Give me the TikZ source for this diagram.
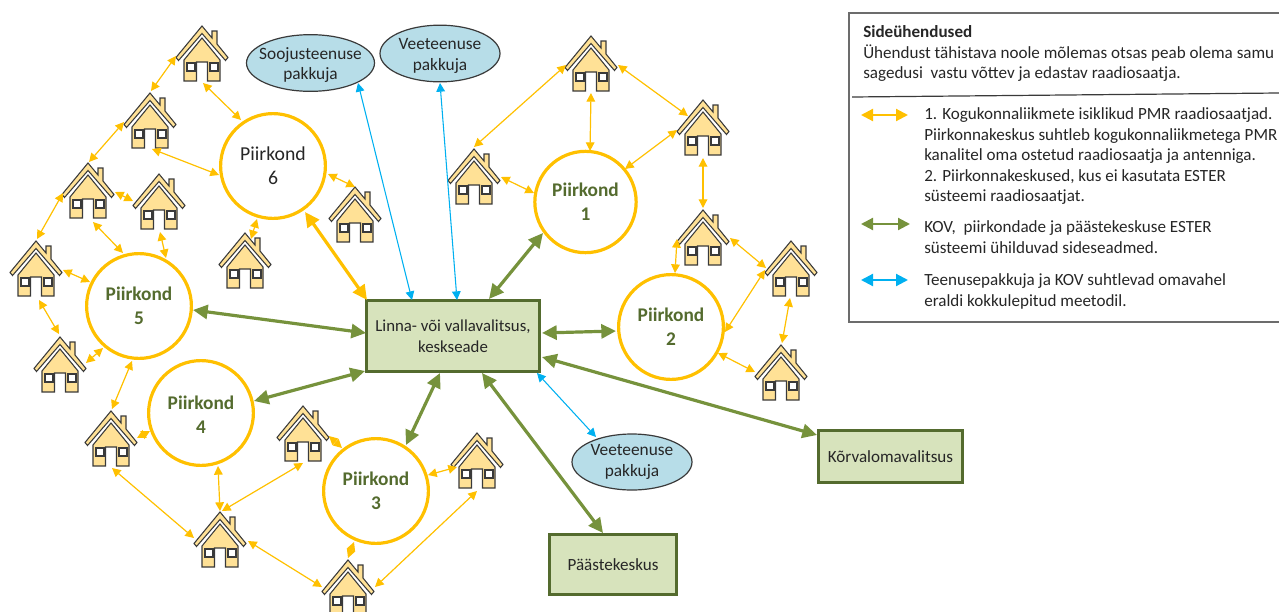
\documentclass[tikz,border=0pt]{standalone}
\usepackage{fontspec}
\setmainfont{Carlito}
\usetikzlibrary{arrows.meta,shapes.geometric}
\definecolor{cyel}{HTML}{FFC000}
\definecolor{cgrn}{HTML}{76923C}
\definecolor{cgrd}{HTML}{546B2E}
\definecolor{cblu}{HTML}{00B0F0}
\definecolor{crect}{HTML}{D7E3BC}
\definecolor{cell}{HTML}{B7DDE8}
\definecolor{chouse}{HTML}{FFE196}
\definecolor{cline}{HTML}{3A3A3A}
\definecolor{ctxt}{HTML}{262626}
\tikzset{
 housebox/.style={inner sep=0pt,outer sep=0pt,minimum width=39pt,minimum height=42pt},
 house/.pic={
  \path[fill=chouse,draw=cline,line width=.8pt,line join=miter]
   (-18,27)--(-18,6)--(0,-16)--(18,6)--(18,27)--(5.5,27)--(5.5,8)--(-5.5,8)--(-5.5,27)--cycle;
  \path[fill=white,draw=cline,line width=.8pt] (-15,9) rectangle (-7,17);
  \path[fill=white,draw=cline,line width=.8pt] (8,9) rectangle (16,17);
  \path[fill=chouse,draw=cline,line width=.8pt,line join=miter]
   (-26,3.5)--(0,-28)--(10,-16)--(10,-23)--(15,-23)--(15,-10)--(26,3.5)--(23.5,6.5)--(0,-20.5)--(-23.5,6.5)--cycle;
 },
 pk/.style={circle,draw=cyel,fill=white,line width=2.4pt,inner sep=0pt,outer sep=0pt,minimum size=78.6pt,align=center,
   font=\fontsize{14.8}{18}\selectfont},
 pkb/.style={pk,text=cgrd,font=\fontsize{14.5}{18}\selectfont\bfseries},
 gbox/.style={rectangle,draw=cgrd,fill=crect,line width=2.4pt,inner sep=0pt,outer sep=0pt,align=center,text=ctxt,
   font=\fontsize{12.8}{15.6}\selectfont},
 prov/.style={ellipse,draw=cline,fill=cell,line width=.9pt,inner xsep=-18pt,inner ysep=-10pt,outer sep=0pt,align=center,text=ctxt,
   font=\fontsize{13}{15.6}\selectfont},
 yl/.style={draw=cyel,line width=.9pt,{Triangle[length=6.5pt,width=6.5pt]}-{Triangle[length=6.5pt,width=6.5pt]}},
 ylt/.style={draw=cyel,line width=2.4pt,{Triangle[length=11pt,width=10.5pt]}-{Triangle[length=11pt,width=10.5pt]}},
 gr/.style={draw=cgrn,line width=2.4pt,{Triangle[length=11pt,width=10.5pt]}-{Triangle[length=11pt,width=10.5pt]}},
 bl/.style={draw=cblu,line width=.8pt,{Triangle[length=6.5pt,width=6.5pt]}-{Triangle[length=6.5pt,width=6.5pt]}},
 lgy/.style={draw=cyel,line width=1.6pt,{Triangle[length=9pt,width=9pt]}-{Triangle[length=9pt,width=9pt]}},
 lgg/.style={lgy,draw=cgrn},
 lgb/.style={lgy,draw=cblu},
 lgt/.style={anchor=north west,inner sep=0pt,align=left,text=ctxt,font=\fontsize{12.8}{15.4}\selectfont},
}
\begin{document}
\begin{tikzpicture}[x=.75pt,y=-.75pt]
\useasboundingbox (0,0) rectangle (1279,611);
% houses
\foreach \n/\x/\y in {ha/202/54,hb/150/121,hc/88/191,hd/159/202,he/36/269,hf/245/261,hg/355/215,
  hh/60/365,hi/111/439,hj/220/540,hk/303/434,hl/477/461,hm/348/588,hn/591/64,ho/703/128,
  hp/474/177,hq/703/238,hr/791/269,hs/781/373}{
  \node[housebox] (\n) at (\x,\y) {};
  \pic at (\n.center) {house};
}
% districts
\node[pkb] (c1) at (585.5,202) [minimum size=76pt] {Piirkond\\1};
\node[pkb] (c2) at (671,327) {Piirkond\\2};
\node[pkb] (c3) at (376,491) {Piirkond\\3};
\node[pkb] (c4) at (201,413) {\rule{0pt}{13pt}Piirkond\\4};
\node[pkb] (c5) at (139,306) {Piirkond\\5};
\node[pk,text=ctxt] (c6) at (273,166) {Piirkond\\6};
% boxes
\node[gbox,minimum width=129.5pt,minimum height=53pt,font=\fontsize{12.6}{15.6}\selectfont] (main) at (453,336) {Linna- või vallavalitsus,\\keskseade};
\node[gbox,minimum width=95.5pt,minimum height=45pt] (pk) at (613,564.5) {Päästekeskus};
\node[gbox,minimum width=108.5pt,minimum height=39.5pt] (kv) at (890.5,456.5) {Kõrvalomavalitsus};
\node[prov,minimum width=96pt,minimum height=42.5pt] (s1) at (310.5,63) {\rule{0pt}{12pt}Soojusteenuse\\pakkuja};
\node[prov,minimum width=90pt,minimum height=42.5pt] (v1) at (440,53.5) {\rule{0pt}{12pt}Veeteenuse\\pakkuja};
\node[prov,minimum width=90pt,minimum height=42pt] (v2) at (632,462) {Veeteenuse\\pakkuja};
% thin yellow links
\draw[yl] ([shift={(-26,2)}]ha.center) -- ([shift={(1,-30)}]hb.center);
\draw[yl] ([shift={(1,29)}]ha.center) -- ([shift={(-32,-46)}]c6.center);
\draw[yl] ([shift={(-26,1)}]hb.center) -- ([shift={(1,-29)}]hc.center);
\draw[yl] ([shift={(2,28)}]hb.center) -- ([shift={(-54,9)}]c6.center);
\draw[yl] ([shift={(27,1)}]hc.center) -- ([shift={(-26,-1)}]hd.center);
\draw[yl] ([shift={(-25,2)}]hc.center) -- ([shift={(1,-30)}]he.center);
\draw[yl] ([shift={(5,31)}]hc.center) -- ([shift={(-16,-53)}]c5.center);
\draw[yl] ([shift={(1,30)}]hd.center) -- ([shift={(27,-48)}]c5.center);
\draw[yl] ([shift={(27,1)}]he.center) -- ([shift={(-49,-24)}]c5.center);
\draw[yl] ([shift={(55,8)}]c6.center) -- ([shift={(0,-28)}]hg.center);
\draw[yl] ([shift={(-16,53)}]c6.center) -- ([shift={(6,-22)}]hf.center);
\draw[yl] ([shift={(3,31)}]he.center) -- ([shift={(-1,-31)}]hh.center);
\draw[yl] ([shift={(26,-2)}]hh.center) -- ([shift={(-36,42)}]c5.center);
\draw[yl] ([shift={(-7,55)}]c5.center) -- ([shift={(1,-30)}]hi.center);
\draw[yl] ([shift={(26,-1)}]hi.center) -- ([shift={(-51,18)}]c4.center);
\draw[yl] ([shift={(1,29)}]hi.center) -- ([shift={(-26,-2)}]hj.center);
\draw[yl] ([shift={(17,53)}]c4.center) -- ([shift={(0,-29)}]hj.center);
\draw[yl] ([shift={(2,-29)}]hj.center) -- ([shift={(0,29)}]hk.center);
\draw[yl] ([shift={(26,2)}]hk.center) -- ([shift={(-34,-43)}]c3.center);
\draw[yl] ([shift={(52,-16)}]c3.center) -- ([shift={(-20,6)}]hl.center);
\draw[yl] ([shift={(0,30)}]hl.center) -- ([shift={(27,-1)}]hm.center);
\draw[yl] ([shift={(28,1)}]hj.center) -- ([shift={(-26,-1)}]hm.center);
\draw[yl] ([shift={(-22,51)}]c3.center) -- ([shift={(0,-30)}]hm.center);
\draw[yl] ([shift={(0,-30)}]hp.center) -- ([shift={(-25,1)}]hn.center);
\draw[yl] ([shift={(27,0)}]hp.center) -- ([shift={(-51.5,-9)}]c1.center);
\draw[yl] ([shift={(0,29)}]hn.center) -- ([shift={(4.5,-51)}]c1.center);
\draw[yl] ([shift={(27,1)}]hn.center) -- ([shift={(-15,-12)}]ho.center);
\draw[yl] ([shift={(-26,2)}]ho.center) -- ([shift={(39.5,-33)}]c1.center);
\draw[yl] ([shift={(0,30)}]ho.center) -- ([shift={(0,-30)}]hq.center);
\draw[yl] ([shift={(-26,1)}]hq.center) -- ([shift={(4,-54)}]c2.center);
\draw[yl] ([shift={(27,0)}]hq.center) -- ([shift={(-25,-1)}]hr.center);
\draw[yl] ([shift={(-26,1)}]hr.center) -- ([shift={(54,5)}]c2.center);
\draw[yl] ([shift={(-1,29)}]hr.center) -- ([shift={(1,-30)}]hs.center);
\draw[yl] ([shift={(47,26)}]c2.center) -- ([shift={(-26,-1)}]hs.center);
% thick links
\draw[ylt] ([shift={(32,46)}]c6.center) -- ([shift={(-86,-36)}]main.center);
\draw[gr] ([shift={(36,-37)}]main.center) -- ([shift={(-42.5,31)}]c1.center);
\draw[gr] ([shift={(89,-3)}]main.center) -- ([shift={(-55,4)}]c2.center);
\draw[gr] ([shift={(89,21)}]main.center) -- ([shift={(-73.5,-21.5)}]kv.center);
\draw[gr] ([shift={(29,37)}]main.center) -- ([shift={(-10,-31.5)}]pk.center);
\draw[gr] ([shift={(-13,37)}]main.center) -- ([shift={(30,-46)}]c3.center);
\draw[gr] ([shift={(-88,35)}]main.center) -- ([shift={(53,-12)}]c4.center);
\draw[gr] ([shift={(-87,-3)}]main.center) -- ([shift={(54,4)}]c5.center);
% blue links
\draw[bl] ([shift={(-41,-36)}]main.center) -- ([shift={(47.5,20)}]s1.center);
\draw[bl] ([shift={(4,-36)}]main.center) -- ([shift={(0,29.5)}]v1.center);
\draw[bl] ([shift={(84,37)}]main.center) -- ([shift={(-36,-25)}]v2.center);
% legend
\path[draw=gray!85!black,line width=1.1pt] (1290,13) -- (849,13) -- (849,322) -- (1290,322);
\coordinate (d1) at (852,97);
\coordinate (d2) at (1279,93);
\draw[cline,line width=.9pt] (d1) -- (d2);
\node[lgt] (t0) at (863,25.5) {\textbf{Sideühendused}\\Ühendust tähistava noole mõlemas otsas peab olema samu\\sagedusi\ \ vastu võttev ja edastav raadiosaatja.};
\node[lgt] (t1) at (924,107.5) {1. Kogukonnaliikmete isiklikud PMR raadiosaatjad.\\Piirkonnakeskus suhtleb kogukonnaliikmetega PMR\\kanalitel oma ostetud raadiosaatja ja antenniga.\\2. Piirkonnakeskused, kus ei kasutata ESTER\\süsteemi raadiosaatjat.};
\node[lgt] (t2) at (924,220.5) {KOV,\ \ piirkondade ja päästekeskuse ESTER\\süsteemi ühilduvad sideseadmed.};
\node[lgt] (t3) at (924,273.5) {Teenusepakkuja ja KOV suhtlevad omavahel\\eraldi kokkulepitud meetodil.};
\coordinate (ya) at (861,115); \coordinate (yb) at (908,115);
\coordinate (ga) at (861,224); \coordinate (gb) at (910,224);
\coordinate (ba) at (861,280); \coordinate (bb) at (908,280);
\draw[lgy] (ya) -- (yb);
\draw[lgg] (ga) -- (gb);
\draw[lgb] (ba) -- (bb);
\end{tikzpicture}
\end{document}
